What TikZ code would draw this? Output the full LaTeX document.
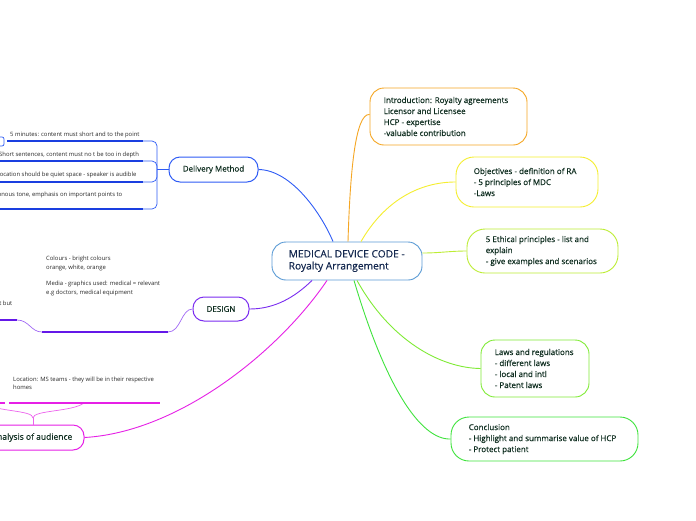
\documentclass[tikz,border=0pt]{standalone}
\usepackage{fontspec}
\setmainfont{Open Sans}
\newfontfamily\medfont[FakeBold=0.35]{Open Sans}
\definecolor{txt}{HTML}{0F2E20}
\definecolor{ctxt}{HTML}{14284F}
\definecolor{leaftxt}{HTML}{2A2A2A}
\definecolor{centreC}{HTML}{5B9BD5}
\definecolor{blueC}{HTML}{2F5CF5}
\definecolor{blueD}{HTML}{1A3FE0}
\definecolor{purpleC}{HTML}{7A2CF0}
\definecolor{purpleD}{HTML}{6418E8}
\definecolor{magC}{HTML}{E620E6}
\definecolor{orangeC}{HTML}{F5A623}
\definecolor{yellowC}{HTML}{F5EE30}
\definecolor{ygC}{HTML}{BDED35}
\definecolor{greenC}{HTML}{80EB36}
\definecolor{green2C}{HTML}{3FE33D}
\tikzset{
  topic/.style={draw, rounded corners=14pt, line width=0.9pt, fill=white, inner sep=0pt},
  topictext/.style={anchor=west, align=left, text=txt, font=\medfont\fontsize{8}{11}\selectfont, inner sep=0pt},
  mainbranch/.style={draw, rounded corners=11pt, line width=1pt, fill=white, align=center,
    text=txt, font=\medfont\fontsize{8}{10}\selectfont, inner sep=0pt},
  conn/.style={line width=0.9pt},
  thin/.style={line width=0.7pt},
  under/.style={line width=1.5pt},
  leaf/.style={text=leaftxt, font=\fontsize{5.9}{8.3}\selectfont, inner sep=0pt, align=left}
}
\begin{document}
\begin{tikzpicture}[x=1pt,y=-1pt]
\useasboundingbox (0,0) rectangle (696,520);
\clip (0,0) rectangle (696,520);
\fill[white] (0,0) rectangle (696,520);

% central
\node[topic, draw=centreC, minimum width=150, minimum height=38] (c) at (347,261) {};
\node[topictext, text=ctxt, font=\medfont\fontsize{10.2}{12}\selectfont] (ct) at ([xshift=17pt]c.west)
  {MEDICAL DEVICE CODE -\\Royalty Arrangement};

% right topics
\node[topic, draw=orangeC, minimum width=157, minimum height=57] (intro) at (448.5,116.5) {};
\node[topictext] (introt) at ([xshift=14pt]intro.west)
  {Introduction: Royalty agreements\\Licensor and Licensee\\HCP - expertise\\-valuable contribution};
\node[topic, draw=yellowC, rounded corners=18pt, minimum width=142, minimum height=50] (obj) at (527,182) {};
\node[topictext] (objt) at ([xshift=18pt]obj.west)
  {Objectives - definition of RA\\- 5 principles of MDC\\-Laws};
\node[topic, draw=ygC, rounded corners=18pt, minimum width=151, minimum height=44] (eth) at (542.5,251) {};
\node[topictext] (etht) at ([xshift=19pt]eth.west)
  {5 Ethical principles - list and\\explain\\- give examples and scenarios};
\node[topic, draw=greenC, minimum width=108, minimum height=57] (laws) at (535,368.5) {};
\node[topictext] (lawst) at ([xshift=14pt]laws.west)
  {Laws and regulations\\- different laws\\- local and intl\\- Patent laws};
\node[topic, draw=green2C, rounded corners=18pt, minimum width=187, minimum height=44] (concl) at (544.5,439) {};
\node[topictext] (conclt) at ([xshift=18pt]concl.west)
  {Conclusion\\- Highlight and summarise value of HCP\\- Protect patient};

% left main branches
\node[mainbranch, draw=blueC, minimum width=89, minimum height=25] (dm) at (213.5,169.5) {Delivery Method};
\node[mainbranch, draw=purpleC, minimum width=56, minimum height=24] (ds) at (221,309) {DESIGN};
\node[topic, draw=magC, line width=1pt, rounded corners=11pt, minimum width=124, minimum height=25] (an) at (22,437.5) {};
\node[topictext, anchor=east, font=\medfont\fontsize{8.5}{10}\selectfont] (ant) at ([xshift=-12pt]an.east) {Analysis of audience};

% connectors from centre
\draw[conn, blueC] (dm.east) .. controls (292,170) and (322,215) .. ([xshift=-14pt]c.north);
\draw[conn, orangeC] ([xshift=1pt]c.north) .. controls (350,175) and (355,113) .. ([yshift=2pt]intro.west);
\draw[conn, yellowC] ([xshift=14pt]c.north) .. controls (385,200) and (420,182) .. (obj.west);
\draw[conn, ygC] ([yshift=8pt]c.east) .. controls (440,253) and (450,251) .. (eth.west);
\draw[conn, greenC] ([xshift=10pt]c.south) .. controls (390,340) and (440,368) .. (laws.west);
\draw[conn, green2C] ([xshift=7pt]c.south) .. controls (385,385) and (420,440) .. (concl.west);
\draw[conn, purpleC] ([xshift=-35pt]c.south) .. controls (295,297) and (275,309) .. (ds.east);
\draw[conn, magC] ([xshift=-20pt]c.south) .. controls (280,350) and (180,432) .. (an.east);

% Delivery Method subtree
\coordinate (dj) at (157,169.5);
\coordinate (d1) at (143,141);
\coordinate (d2) at (143,161);
\coordinate (d3) at (143,182);
\coordinate (d4) at (143,209);
\draw[conn, blueC] (dm.west) -- (dj);
\draw[thin, blueC, rounded corners=5pt] (dj) |- (d1);
\draw[thin, blueC, rounded corners=5pt] (dj) |- (d2);
\draw[thin, blueC, rounded corners=5pt] (dj) |- (d3);
\draw[thin, blueC, rounded corners=5pt] (dj) |- (d4);
\draw[under, blueD] (d1) -- (7,141);
\draw[under, blueD] (d2) -- (-5,161);
\draw[under, blueD] (d3) -- (-5,182);
\draw[under, blueD] (d4) -- (-5,209);
\draw[thin, blueC, rounded corners=2pt] (-6,137) rectangle (4,146);
\node[leaf, anchor=base west] (l1) at (10,136) {5 minutes: content must short and to the point};
\node[leaf, anchor=base west] (l2) at (-1,156) {Short sentences, content must no t be too in depth};
\node[leaf, anchor=base west] (l3) at (-3.5,176) {Location should be quiet space - speaker is audible};
\node[leaf, anchor=base east] (l4) at (122.5,196) {Monotonous tone, emphasis on important points to};

% DESIGN subtree
\coordinate (dsj) at (168,332);
\coordinate (dsl) at (42,332);
\coordinate (dsk) at (17,320);
\draw[thin, purpleC!70] (ds.west) .. controls (181,309) and (181,332) .. (dsj);
\draw[under, purpleD] (dsj) -- (dsl);
\draw[thin, purpleC!70] (dsl) .. controls (31,332) and (29,320) .. (dsk);
\draw[under, purpleD] (dsk) -- (-5,320);
\node[leaf, anchor=base west] (dt) at (46,294)
  {Colours - bright colours\\orange, white, orange\\[8.3pt]Media - graphics used: medical = relevant\\e.g doctors, medical equipment};
\node[leaf, anchor=base east] (dt2) at (12.5,305.5) {t but};

% Analysis subtree
\coordinate (aj) at (33,418);
\coordinate (ar) at (84,403);
\coordinate (al) at (-18,403);
\draw[thin, magC!70] ([xshift=11pt]an.north) -- (aj);
\draw[thin, magC!70] (aj) .. controls (33,410) and (72,412) .. (ar);
\draw[thin, magC!70] (aj) .. controls (33,410) and (-2,412) .. (al);
\draw[under, magC] (9,403) -- (160,403);
\draw[under, magC] (-10,403) -- (5,403);
\node[leaf, anchor=base west] (at) at (13,389.5) {Location: MS teams - they will be in their respective\\homes};
\end{tikzpicture}
\end{document}
